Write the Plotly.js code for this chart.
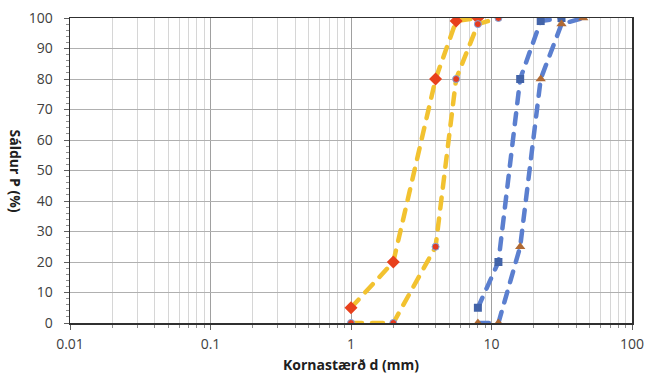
<!DOCTYPE html>
<html><head><meta charset="utf-8">
<script src="https://cdn.plot.ly/plotly-3.0.1.min.js"></script>
<style>html,body{margin:0;padding:0;background:#fff}#c{width:649px;height:378px}</style>
</head><body><div id="c"></div>
<script>
const x1 = [1, 2, 4, 5.6, 8];
const y1 = [5, 20, 80, 99, 100];
const x2 = [1, 2, 4, 5.6, 8, 11.2];
const y2 = [0, 0, 25, 80, 98, 100];
const x3 = [8, 11.2, 16, 22.4, 31.5];
const y3 = [5, 20, 80, 99, 100];
const x4 = [8, 11.2, 16, 22.4, 31.5, 45];
const y4 = [0, 0, 25, 80, 98, 100];
const xTickVals = [0.01, 0.1, 1, 10, 100];
const xTickText = ['0.01', '0.1', '1', '10', '100'];
const yTickVals = [0, 10, 20, 30, 40, 50, 60, 70, 80, 90, 100];
const xTitle = 'Kornastærð d (mm)';
const yTitle = 'Sáldur P (%)';

const yellow = '#F2C230', blue = '#5B7FCF';
const dash = '11px,10px';
const traces = [
  {x: x1, y: y1, mode: 'lines+markers', line: {color: yellow, width: 4.5, dash: dash},
   marker: {symbol: 'diamond', size: 10, color: '#E8401C'}},
  {x: x2, y: y2, mode: 'lines+markers', line: {color: yellow, width: 4.5, dash: dash},
   marker: {symbol: 'circle', size: 7, color: '#E53A1E', line: {color: '#7FA8E0', width: 1}}},
  {x: x3, y: y3, mode: 'lines+markers', line: {color: blue, width: 4.5, dash: dash},
   marker: {symbol: 'square', size: 8, color: '#4263A8'}},
  {x: x4, y: y4, mode: 'lines+markers', line: {color: blue, width: 4.5, dash: dash},
   marker: {symbol: 'triangle-up', size: 9, color: '#B06A34'}}
];
const fam = 'Open Sans, Liberation Sans, sans-serif';
const layout = {
  width: 649, height: 378, showlegend: false,
  margin: {l: 70, r: 17, t: 18, b: 55},
  paper_bgcolor: '#fff', plot_bgcolor: '#fff',
  font: {family: fam, size: 14, color: '#404040'},
  xaxis: {type: 'log', range: [-2, 2], tickvals: xTickVals, ticktext: xTickText,
    showgrid: true, gridcolor: '#a0a0a0', gridwidth: 1,
    ticks: 'outside', ticklen: 5, tickcolor: '#606060', ticklabelstandoff: 3,
    minor: {dtick: 'D1', showgrid: true, gridcolor: '#d6d6d6', ticks: 'outside', ticklen: 3, tickcolor: '#909090'},
    showline: true, linecolor: '#303030', linewidth: 1.5, mirror: true, zeroline: false,
    title: {text: xTitle, font: {family: fam, size: 14, color: '#202020', weight: 'bold'}, standoff: 8},
    tickfont: {size: 14, color: '#404040'}},
  yaxis: {range: [0, 100], tickvals: yTickVals,
    showgrid: true, gridcolor: '#b0b0b0', gridwidth: 1,
    ticks: 'outside', ticklen: 5, tickcolor: '#606060', ticklabelstandoff: 8,
    minor: {dtick: 2, showgrid: false, ticks: 'outside', ticklen: 3, tickcolor: '#909090'},
    showline: true, linecolor: '#303030', linewidth: 1.5, mirror: true, zeroline: false,
    tickfont: {size: 14, color: '#404040'}},
  annotations: [{text: yTitle, textangle: 90, showarrow: false,
    xref: 'paper', yref: 'paper', x: 0, y: 0.5, xanchor: 'center', yanchor: 'middle', xshift: -55,
    font: {family: fam, size: 14, color: '#202020', weight: 'bold'}}]
};
Plotly.newPlot('c', traces, layout, {displayModeBar: false, staticPlot: true}).then(function () {
  document.querySelectorAll('.scatterlayer .js-line').forEach(function (p) {
    p.style.strokeLinecap = 'round';
  });
});
</script></body></html>
